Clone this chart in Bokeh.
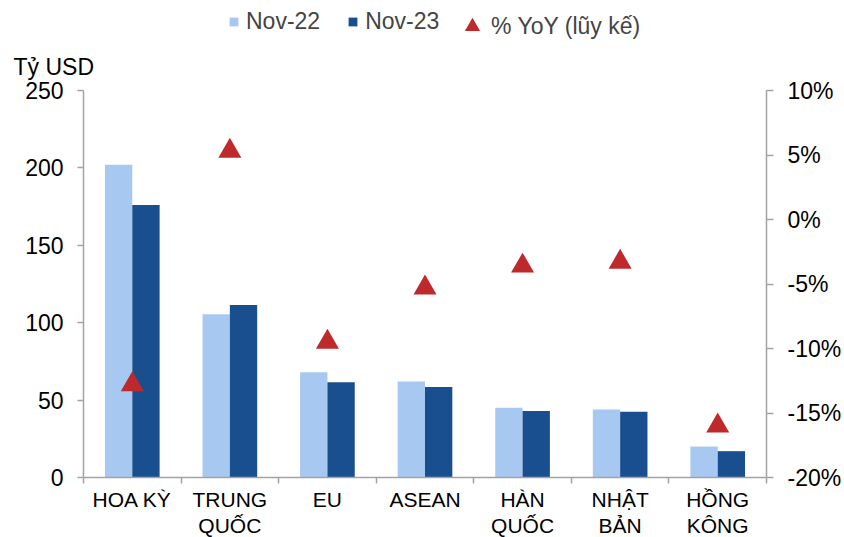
from bokeh.plotting import figure
from bokeh.models import (ColumnDataSource, Range1d, LinearAxis, FixedTicker, Legend,
                          LegendItem, Label, PrintfTickFormatter)
from bokeh.transform import dodge
from bokeh.embed import file_html
from bokeh.resources import INLINE

# ---- data ----
categories = ["HOA KỲ", "TRUNG\nQUỐC", "EU", "ASEAN", "HÀN\nQUỐC", "NHẬT\nBẢN", "HỒNG\nKÔNG"]
nov22 = [202, 105.5, 68, 62, 45, 44, 20]
nov23 = [176, 111.5, 61.5, 58.5, 43, 42.5, 17]
yoy = [-12.8, 5.3, -9.5, -5.3, -3.6, -3.3, -16.0]
left_ticks = [0, 50, 100, 150, 200, 250]
right_ticks = [-20, -15, -10, -5, 0, 5, 10]
left_bounds = (0, 250)
right_bounds = (-20, 10)

FONT = "Liberation Sans"
AXIS_COLOR = "#a3a3a3"
LIGHT = "#A7C8F0"
DARK = "#1A4F8F"
RED = "#BE2A2B"

W, H = 844, 537
# plot-area box (pixels) inside the canvas
PL, PR, PT, PB = 83, 766, 90, 477

n = len(categories)
pos = [i + 0.5 for i in range(n)]
src = ColumnDataSource(dict(x=pos, nov22=nov22, nov23=nov23, yoy=yoy))

# ranges extended so that the data box sits at PL..PR / PT..PB of the canvas
cw = (PR - PL) / n
x_range = Range1d(-PL / cw, n + (W - PR) / cw)
ly = (PB - PT) / (left_bounds[1] - left_bounds[0])
y_range = Range1d(left_bounds[0] - (H - PB) / ly, left_bounds[1] + PT / ly)
ry = (PB - PT) / (right_bounds[1] - right_bounds[0])
yoy_range = Range1d(right_bounds[0] - (H - PB) / ry, right_bounds[1] + PT / ry)

p = figure(width=W, height=H, output_backend="svg", toolbar_location=None,
           x_range=x_range, y_range=y_range, x_axis_type=None, y_axis_type=None,
           min_border=0)
p.extra_y_ranges = {"yoy": yoy_range}
p.outline_line_color = None
p.xgrid.visible = False
p.ygrid.visible = False

r1 = p.vbar(x=dodge("x", -0.14, range=p.x_range), top="nov22", width=0.28, source=src,
            fill_color=LIGHT, line_color=None)
r2 = p.vbar(x=dodge("x", 0.14, range=p.x_range), top="nov23", width=0.28, source=src,
            fill_color=DARK, line_color=None)
r3 = p.scatter(x="x", y="yoy", y_range_name="yoy", source=src, marker="triangle",
               size=23, fill_color=RED, line_color=None)


def style(ax, size):
    ax.axis_line_color = AXIS_COLOR
    ax.axis_line_width = 1.5
    ax.major_tick_line_color = AXIS_COLOR
    ax.major_tick_line_width = 1.5
    ax.minor_tick_line_color = AXIS_COLOR
    ax.minor_tick_line_width = 1.5
    ax.major_label_text_font = FONT
    ax.major_label_text_font_size = size
    ax.major_label_text_color = "#000000"


xaxis = LinearAxis(ticker=FixedTicker(ticks=pos, minor_ticks=list(range(n + 1))),
                   major_label_overrides={pos[i]: categories[i] for i in range(n)},
                   major_tick_out=0, major_tick_in=0, minor_tick_out=6, minor_tick_in=0,
                   major_label_standoff=4, fixed_location=left_bounds[0], bounds=(0, n))
style(xaxis, "21px")
xaxis.major_label_text_line_height = 1.15
p.add_layout(xaxis, "below")

laxis = LinearAxis(ticker=FixedTicker(ticks=left_ticks), major_tick_out=6, major_tick_in=0,
                   minor_tick_out=0, minor_tick_in=0, major_label_standoff=14,
                   fixed_location=0, bounds=left_bounds)
style(laxis, "23px")
p.add_layout(laxis, "left")

raxis = LinearAxis(y_range_name="yoy", ticker=FixedTicker(ticks=right_ticks),
                   formatter=PrintfTickFormatter(format="%d%%"),
                   major_tick_out=7, major_tick_in=0, minor_tick_out=0, minor_tick_in=0,
                   major_label_standoff=14, fixed_location=n, bounds=right_bounds)
style(raxis, "23px")
p.add_layout(raxis, "right")

legA = Legend(items=[LegendItem(label="Nov-22", renderers=[r1]),
                     LegendItem(label="Nov-23", renderers=[r2])],
              location=(228, 502), orientation="horizontal",
              glyph_width=11, glyph_height=11, label_height=22, label_standoff=7,
              spacing=27, padding=0, margin=0,
              border_line_color=None, background_fill_alpha=0,
              label_text_font=FONT, label_text_font_size="23px")
legB = Legend(items=[LegendItem(label="% YoY (lũy kế)", renderers=[r3])],
              location=(453, 492), orientation="horizontal",
              glyph_width=38, glyph_height=38, label_height=22, label_standoff=0,
              padding=0, margin=0,
              border_line_color=None, background_fill_alpha=0,
              label_text_font=FONT, label_text_font_size="23px")
p.add_layout(legA)
p.add_layout(legB)

p.add_layout(Label(x=13, y=H - 66, x_units="screen", y_units="screen", text="Tỷ USD",
                   text_baseline="alphabetic",
                   text_font=FONT, text_font_size="23px", text_color="#000000"))

open("out.html", "w").write(file_html(p, INLINE))
